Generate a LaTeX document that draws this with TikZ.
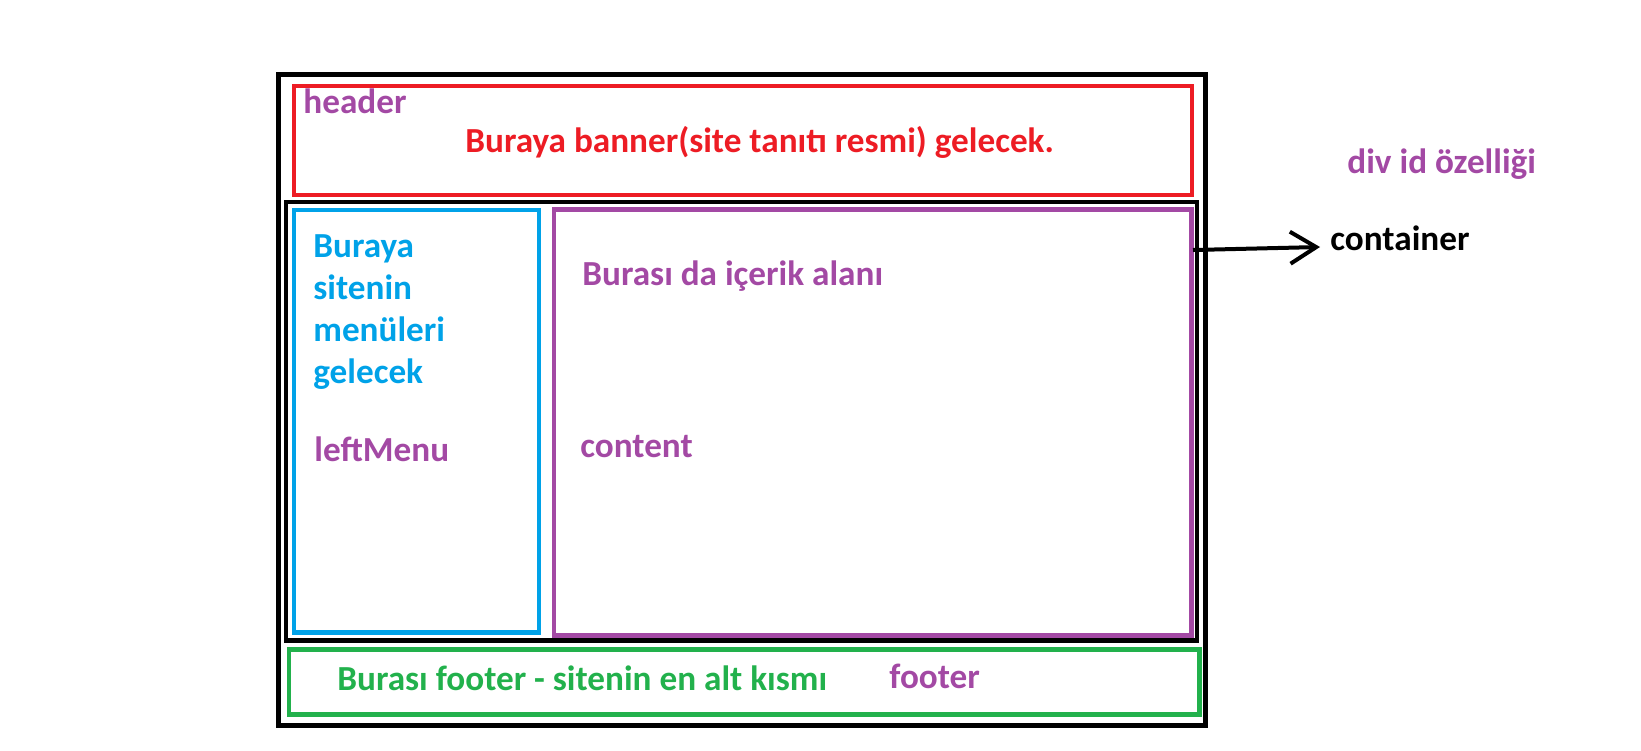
\documentclass[tikz,border=0pt]{standalone}
\usepackage{fontspec}
\setmainfont{Carlito}
\usetikzlibrary{arrows.meta}

\definecolor{pred}{RGB}{237,28,36}
\definecolor{pblue}{RGB}{0,162,232}
\definecolor{ppurple}{RGB}{163,73,164}
\definecolor{pgreen}{RGB}{34,177,76}

\tikzset{
  box/.style={line width=2.2pt},
  lbl/.style={anchor=base west, inner sep=0pt, font=\fontsize{17.6pt}{21pt}\selectfont\bfseries}
}

\begin{document}
\begin{tikzpicture}[x=0.5pt,y=-0.5pt]
\useasboundingbox (0,0) rectangle (1641,750);
% outer frame and the div boxes
\draw[box, line width=2.4pt] (278.5,74.5) rectangle (1205.5,725.5);
\draw[box, pred] (294,86) rectangle (1192,195);
\draw[box] (286,202) rectangle (1197,640.5);
\draw[box, pblue] (294,210) rectangle (539,632.5);
\draw[box, ppurple] (554,209.5) rectangle (1191.5,635.5);
\draw[box, pgreen] (289,649.5) rectangle (1199.5,714.5);
% header
\node[lbl, ppurple] (hdr) at (303,113) {header};
\node[lbl, pred] (banner) at (465,152) {Buraya banner(site tanıtı resmi) gelecek.};
% left menu
\foreach \t [count=\i] in {Buraya,sitenin,menüleri,gelecek}
  \node[lbl, pblue] (menu\i) at (313,{257+42*(\i-1)}) {\t};
\node[lbl, ppurple] (left) at (314,461) {leftMenu};
% content
\node[lbl, ppurple] (icerik) at (582,285) {Burası da içerik alanı};
\node[lbl, ppurple] (cnt) at (580,457) {content};
% footer
\node[lbl, pgreen] (ftext) at (337,690) {Burası footer - sitenin en alt kısmı};
\node[lbl, ppurple] (ftr) at (889,688) {footer};
% right side
\node[lbl, ppurple] (divid) at (1347,173) {div id özelliği};
\node[lbl] (cont) at (1330,250) {container};
\coordinate (contR) at (1193,250);
\draw[line width=2pt, -{Straight Barb[length=13pt,width=16pt]}] (contR) -- ([shift={(-10,-3)}]cont.base west);
\end{tikzpicture}
\end{document}
